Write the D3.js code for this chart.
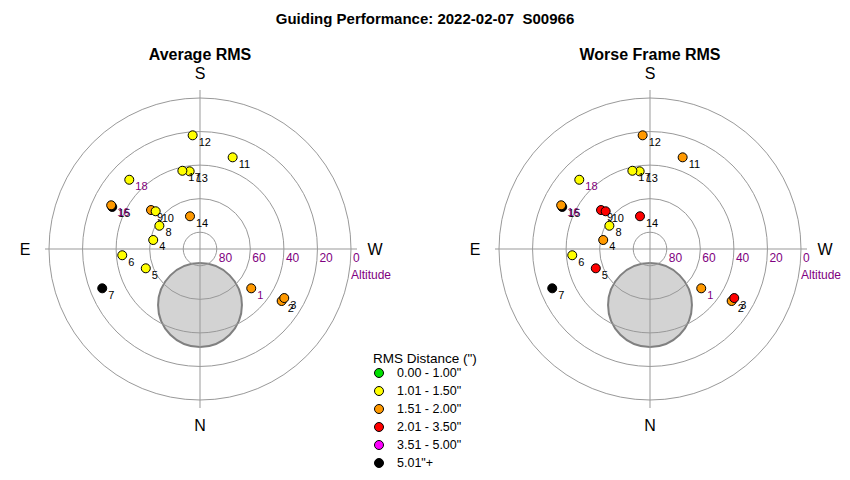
<!DOCTYPE html>
<html>
<head>
<meta charset="utf-8">
<script src="https://cdn.jsdelivr.net/npm/d3@7"></script>
<style>
  body { margin: 0; background: #fff; }
  svg { font-family: "Liberation Sans", Arial, sans-serif; }
</style>
</head>
<body>
<svg id="chart"></svg>
<script>
// frame numbers and their sky positions (degrees)
const frames = [1, 2, 3, 4, 5, 6, 7, 8, 9, 10, 11, 12, 13, 14, 15, 16, 17, 18];
const altitude = [51.5, 32.3, 31.9, 61.6, 55.7, 43.5, 27.2, 62.1, 52.7, 55.3, 32.0, 22.1, 43.3, 69.6, 32.0, 31.0, 42.2, 31.0];
const azimuth = [307.5, 302.5, 300.2, 100.9, 70.4, 85.4, 68.1, 119.8, 128.5, 130.4, 199.6, 176.3, 172.4, 163.0, 115.6, 116.2, 167.3, 134.4];

// RMS per frame (arcsec)
const avgRms = [1.62, 1.74, 1.68, 1.32, 1.41, 1.27, 5.6, 1.22, 1.55, 1.46, 1.38, 1.44, 1.19, 1.71, 5.3, 1.83, 1.25, 1.35];
const worstRms = [1.95, 1.98, 2.31, 1.78, 2.12, 1.48, 7.2, 1.47, 2.45, 2.2, 1.64, 1.72, 1.41, 2.6, 6.8, 1.97, 1.44, 1.49];

// labels drawn in purple
const purpleLabels = [1, 16, 18];

// moon exclusion zone
const moonAlt = 56.6;
const moonAz = 0;
const moonRadius = 25;

// grid
const altRings = [80, 60, 40, 20, 0];
const compass = [["S", 180], ["N", 0], ["E", 90], ["W", 270]];

// legend
const binEdges = [1.005, 1.505, 2.005, 3.505, 5.005];
const binColors = ["#00e000", "#ffff00", "#ff9900", "#ff0000", "#ff00ff", "#000000"];
const binLabels = ['0.00 - 1.00"', '1.01 - 1.50"', '1.51 - 2.00"', '2.01 - 3.50"', '3.51 - 5.00"', '5.01"+'];

const width = 850;
const height = 480;
const R = 151;

const svg = d3.select('svg#chart').attr('width', width).attr('height', height);

const r = d3.scaleLinear().domain([90, 0]).range([0, R]);
const color = d3.scaleThreshold().domain(binEdges).range(binColors);

function pos(alt, az, cx, cy) {
  const rad = az * Math.PI / 180;
  return [cx - r(alt) * Math.sin(rad), cy + r(alt) * Math.cos(rad)];
}

svg.append("text")
  .attr("x", 425).attr("y", 24)
  .attr("text-anchor", "middle")
  .attr("font-size", 15).attr("font-weight", "bold")
  .attr("xml:space", "preserve")
  .text("Guiding Performance: 2022-02-07  S00966");

function polar(cx, cy, title, rms) {
  const g = svg.append("g");

  g.append("text")
    .attr("x", cx).attr("y", 60)
    .attr("text-anchor", "middle")
    .attr("font-size", 16).attr("font-weight", "bold")
    .text(title);

  // moon
  const m = pos(moonAlt, moonAz, cx, cy);
  g.append("circle")
    .attr("cx", m[0]).attr("cy", m[1])
    .attr("r", r(90 - moonRadius))
    .attr("fill", "#d3d3d3")
    .attr("stroke", "#808080")
    .attr("stroke-width", 2);

  // rings
  g.selectAll(".ring")
    .data(altRings)
    .join("circle")
    .attr("cx", cx).attr("cy", cy)
    .attr("r", d => r(d))
    .attr("fill", "none")
    .attr("stroke", "#999")
    .attr("stroke-width", 1);

  g.append("line")
    .attr("x1", cx - R - 4).attr("x2", cx + R + 6)
    .attr("y1", cy).attr("y2", cy)
    .attr("stroke", "#999");
  g.append("line")
    .attr("x1", cx).attr("x2", cx)
    .attr("y1", cy - R - 8).attr("y2", cy + R + 8)
    .attr("stroke", "#999");

  g.selectAll(".tick")
    .data(altRings)
    .join("text")
    .attr("x", d => cx + r(d) + 2)
    .attr("y", cy + 13)
    .attr("font-size", 12)
    .attr("fill", "#800080")
    .text(d => d);

  g.append("text")
    .attr("x", cx + R).attr("y", cy + 30)
    .attr("font-size", 12)
    .attr("fill", "#800080")
    .text("Altitude");

  g.selectAll(".compass")
    .data(compass)
    .join("text")
    .attr("x", d => cx - 175 * Math.sin(d[1] * Math.PI / 180))
    .attr("y", d => cy + 176 * Math.cos(d[1] * Math.PI / 180))
    .attr("text-anchor", "middle")
    .attr("dominant-baseline", "central")
    .attr("font-size", 16)
    .text(d => d[0]);

  const pts = frames.map((f, i) => {
    const p = pos(altitude[i], azimuth[i], cx, cy);
    return { f: f, x: p[0], y: p[1], v: rms[i] };
  });

  g.selectAll(".pt")
    .data(pts)
    .join("circle")
    .attr("cx", d => d.x).attr("cy", d => d.y)
    .attr("r", 4.5)
    .attr("fill", d => color(d.v))
    .attr("stroke", "#000")
    .attr("stroke-width", 1);

  g.selectAll(".lbl")
    .data(pts)
    .join("text")
    .attr("x", d => d.x + 6)
    .attr("y", d => d.y + 10.5)
    .attr("font-size", 11)
    .attr("fill", d => purpleLabels.includes(d.f) ? "#800080" : "#000")
    .text(d => d.f);
}

polar(200, 249, "Average RMS", avgRms);
polar(650, 249, "Worse Frame RMS", worstRms);

// legend
const leg = svg.append("g");
leg.append("text")
  .attr("x", 373).attr("y", 363)
  .attr("font-size", 13.5)
  .text('RMS Distance (")');

leg.selectAll("circle")
  .data(binLabels)
  .join("circle")
  .attr("cx", 379)
  .attr("cy", (d, i) => 373 + i * 18)
  .attr("r", 4.5)
  .attr("fill", (d, i) => binColors[i])
  .attr("stroke", "#000");

leg.selectAll(".li")
  .data(binLabels)
  .join("text")
  .attr("x", 397)
  .attr("y", (d, i) => 377 + i * 18)
  .attr("font-size", 12.5)
  .text(d => d);
</script>
</body>
</html>
